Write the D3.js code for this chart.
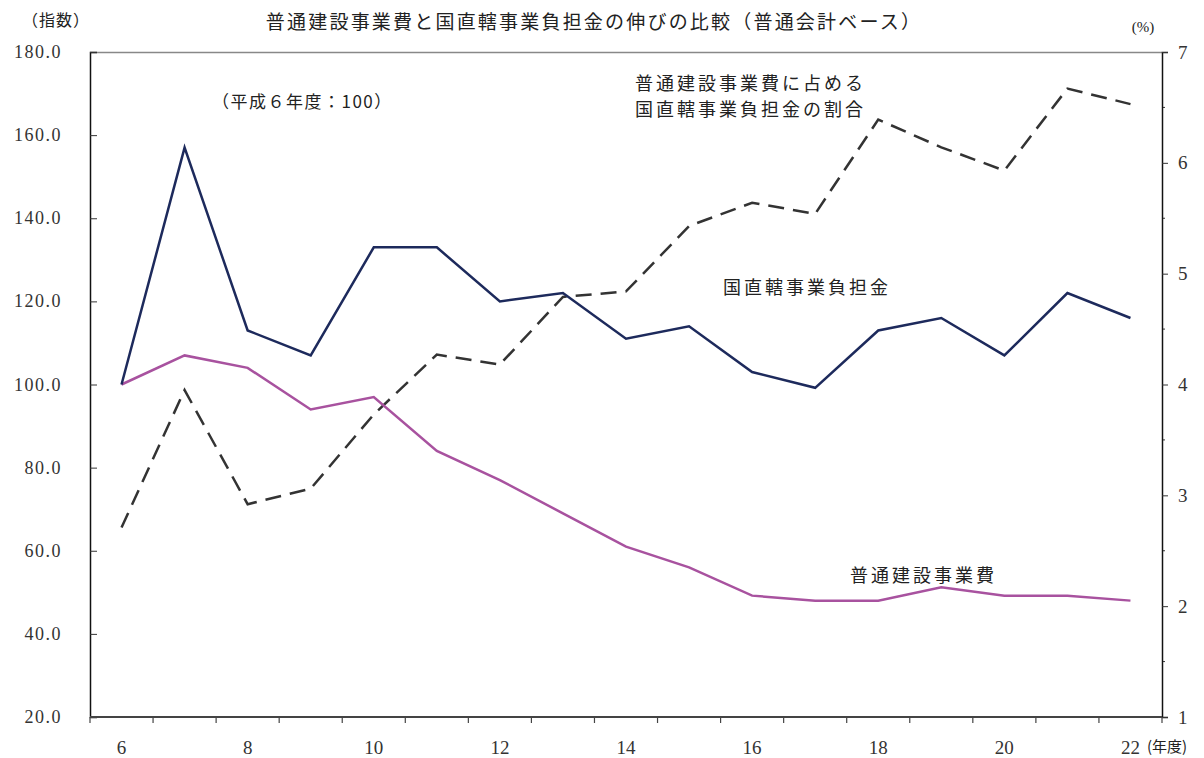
<!DOCTYPE html>
<html>
<head>
<meta charset="utf-8">
<script src="https://cdn.jsdelivr.net/npm/d3@7"></script>
<style>
  body { margin: 0; background: #fff; }
  svg { display: block; }
</style>
</head>
<body>
<svg width="1204" height="758"></svg>
<script>
// 年度 (平成)
const years = [6, 7, 8, 9, 10, 11, 12, 13, 14, 15, 16, 17, 18, 19, 20, 21, 22];
// 国直轄事業負担金 (指数)
const chokkatsu = [100, 157, 113, 107, 133, 133, 120, 122, 111, 114, 103, 99.2, 113, 116, 107, 122, 116];
// 普通建設事業費 (指数)
const futsuKensetsu = [100, 107, 104, 94, 97, 84, 77, 69, 61, 56, 49.2, 48, 48, 51.2, 49.2, 49.2, 48];
// 普通建設事業費に占める国直轄事業負担金の割合 (%)
const wariai = [2.71, 3.95, 2.92, 3.06, 3.73, 4.27, 4.18, 4.79, 4.84, 5.43, 5.64, 5.54, 6.39, 6.14, 5.93, 6.67, 6.53];

const leftTicks = [20, 40, 60, 80, 100, 120, 140, 160, 180];
const rightTicks = [1, 2, 3, 4, 5, 6, 7];
const xLabelYears = [6, 8, 10, 12, 14, 16, 18, 20, 22];

const SERIF = '"Liberation Serif", "DejaVu Serif", serif';
const JP = '"Noto Sans CJK JP", sans-serif';

const svg = d3.select('svg');
const plotL = 90, plotR = 1162, plotT = 52, plotB = 717;

let x = d3.scaleBand().domain(years).range([plotL, plotR]);
let yL = d3.scaleLinear().domain([20, 180]).range([plotB, plotT]);
let yR = d3.scaleLinear().domain([1, 7]).range([plotB, plotT]);

// top border
svg.append('line')
    .attr('x1', plotL).attr('x2', plotR).attr('y1', plotT + 0.5).attr('y2', plotT + 0.5)
    .attr('stroke', '#888').attr('stroke-width', 1.5);

// left axis (ticks inside)
let gL = svg.append('g').attr('transform', `translate(${plotL},0)`)
    .call(d3.axisRight(yL).tickValues(leftTicks).tickSize(7).tickFormat(''));
gL.select('.domain').attr('stroke', '#111').attr('stroke-width', 1.5);
gL.selectAll('.tick line').attr('stroke', '#333');
svg.append('g').selectAll('text').data(leftTicks).enter().append('text')
    .style('font-family', SERIF)
    .attr('x', 62).attr('y', d => yL(d) + 6)
    .attr('text-anchor', 'end')
    .attr('font-size', 18).attr('fill', '#333')
    .attr('letter-spacing', 1.5)
    .text(d => d.toFixed(1));

// right axis (ticks outside) + minor ticks
let minor = d3.range(1.5, 7, 1);
svg.append('g').selectAll('line').data(minor).enter().append('line')
    .attr('x1', plotR).attr('x2', plotR + 3)
    .attr('y1', d => yR(d)).attr('y2', d => yR(d))
    .attr('stroke', '#333');
let gR = svg.append('g').attr('transform', `translate(${plotR},0)`)
    .call(d3.axisRight(yR).tickValues(rightTicks).tickSize(6).tickPadding(10).tickFormat(d3.format('d')));
gR.select('.domain').attr('stroke', '#111').attr('stroke-width', 1.5);
gR.selectAll('.tick line').attr('stroke', '#333');
gR.selectAll('text').style('font-family', SERIF).style('font-size', '19px').attr('fill', '#333');

// bottom axis: ticks at category boundaries
let bounds = years.map(d => x(d)).concat([plotR]);
svg.append('g').selectAll('line').data(bounds).enter().append('line')
    .attr('x1', d => d).attr('x2', d => d)
    .attr('y1', plotB).attr('y2', plotB + 6)
    .attr('stroke', '#444').attr('stroke-width', 1.2);
svg.append('line')
    .attr('x1', plotL).attr('x2', plotR).attr('y1', plotB).attr('y2', plotB)
    .attr('stroke', '#444').attr('stroke-width', 2);
svg.append('g').selectAll('text').data(xLabelYears).enter().append('text')
    .style('font-family', SERIF)
    .attr('x', d => x(d) + x.bandwidth() / 2).attr('y', 754)
    .attr('text-anchor', 'middle')
    .attr('font-size', 19).attr('fill', '#333')
    .text(d => d);

// lines
const cx = (d, i) => x(years[i]) + x.bandwidth() / 2;
svg.append('path').datum(wariai)
    .attr('fill', 'none').attr('stroke', '#333').attr('stroke-width', 2.5)
    .attr('stroke-dasharray', '16,9')
    .attr('d', d3.line().x(cx).y(d => yR(d)));
svg.append('path').datum(futsuKensetsu)
    .attr('fill', 'none').attr('stroke', '#a8529f').attr('stroke-width', 2.5)
    .attr('d', d3.line().x(cx).y(d => yL(d)));
svg.append('path').datum(chokkatsu)
    .attr('fill', 'none').attr('stroke', '#1d2a5c').attr('stroke-width', 2.5)
    .attr('d', d3.line().x(cx).y(d => yL(d)));

// texts
function label(t, xx, yy, size, anchor, font, spacing) {
    svg.append('text').style('font-family', font || JP)
        .attr('x', xx).attr('y', yy)
        .attr('text-anchor', anchor || 'start')
        .attr('font-size', size).attr('fill', '#222')
        .attr('letter-spacing', spacing || 0)
        .text(t);
}
label('普通建設事業費と国直轄事業負担金の伸びの比較（普通会計ベース）', 594, 29, 19, 'middle', JP, 2.2);
label('（指数）', 22, 26, 16, 'start', JP, 1);
label('(%)', 1143, 32, 15, 'middle', SERIF);
label('（平成６年度：100）', 212, 108, 17, 'start', JP, 1.5);
label('普通建設事業費に占める', 635, 90, 18, 'start', JP, 3);
label('国直轄事業負担金の割合', 635, 116, 18, 'start', JP, 3);
label('国直轄事業負担金', 723, 294, 18, 'start', JP, 3);
label('普通建設事業費', 850, 582, 18, 'start', JP, 3);
label('(年度)', 1147, 752, 15, 'start', JP);
</script>
</body>
</html>
